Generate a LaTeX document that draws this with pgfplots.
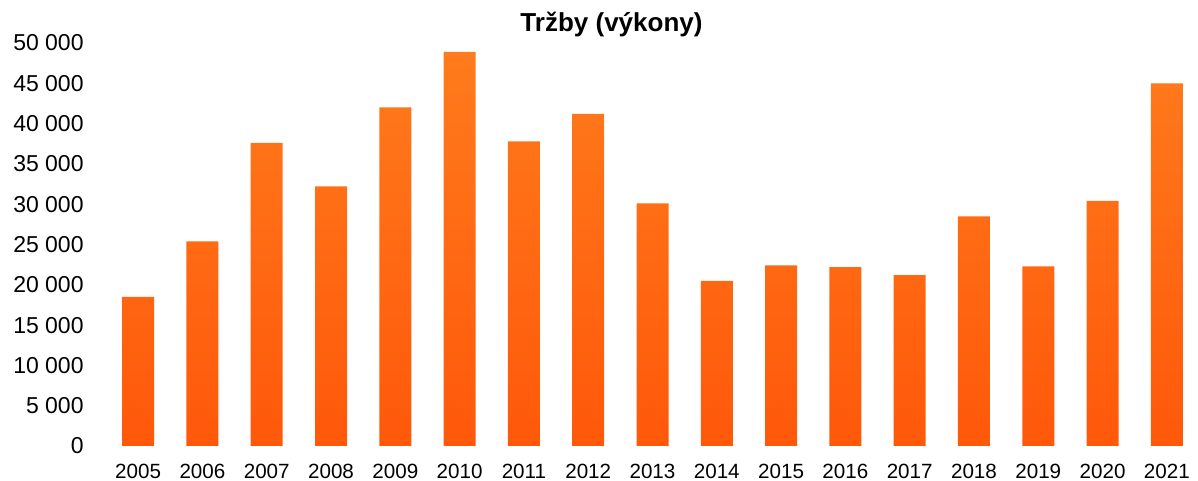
\documentclass[border=0pt]{standalone}
\usepackage{pgfplots}
\pgfplotsset{compat=1.18}
\usepackage{fontspec}
\setmainfont{Liberation Sans}
\definecolor{bartop}{HTML}{FF7B1C}
\definecolor{barbot}{HTML}{FF580A}
\begin{document}
\begin{tikzpicture}
\begin{axis}[
  name=ax,
  width=546.5pt, height=201.5pt,
  scale only axis,
  xmin=-0.5, xmax=16.5,
  ymin=0, ymax=50000,
  axis line style={draw=none},
  xtick=data,
  xticklabels={2005,2006,2007,2008,2009,2010,2011,2012,2013,2014,2015,2016,2017,2018,2019,2020,2021},
  ytick={0,5000,...,50000},
  major tick length=0pt,
  xticklabel style={font=\fontsize{10.3}{12}\selectfont, anchor=north, inner sep=0pt, yshift=-8.7pt},
  yticklabel style={font=\fontsize{11.5}{13}\selectfont, anchor=east, inner sep=0pt, xshift=-11pt},
  /pgf/number format/assume math mode=true,
  /pgf/number format/.cd, 1000 sep={\ }, /pgfplots/.cd,
  scaled y ticks=false,
  ybar, bar width=16pt,
  clip=false,
]
\addplot[draw=none, top color=bartop, bottom color=barbot] coordinates {
(0,18500) (1,25400) (2,37600) (3,32200) (4,42000) (5,48900) (6,37800) (7,41200)
(8,30100) (9,20500) (10,22400) (11,22200) (12,21200) (13,28500) (14,22300) (15,30400) (16,45000)
};
\node[anchor=base, font=\fontsize{13}{15}\selectfont\bfseries] at (rel axis cs:0.4625,1) [yshift=5.6pt] {Tržby (výkony)};
\end{axis}
\pgfresetboundingbox
\path[use as bounding box] ([xshift=-53pt,yshift=-17.5pt]ax.south west) rectangle ([xshift=-0.5pt,yshift=21.5pt]ax.north east);
\end{tikzpicture}
\end{document}
